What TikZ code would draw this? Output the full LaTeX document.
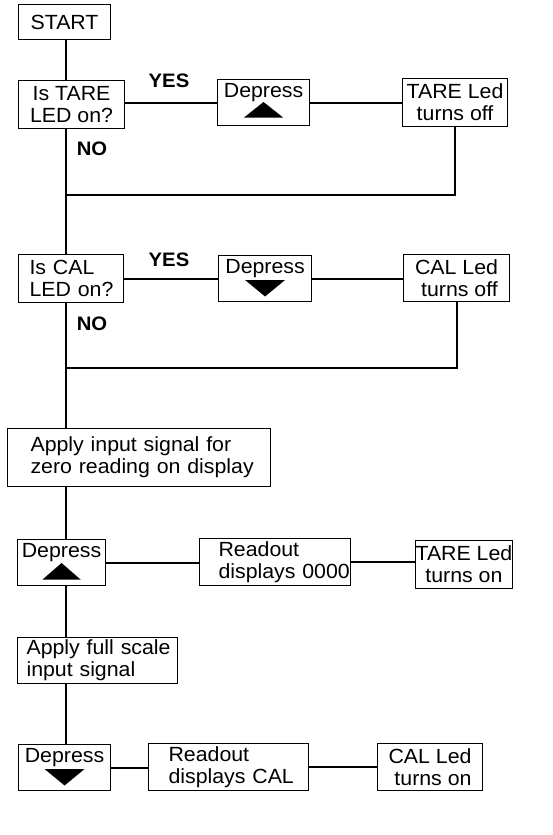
\documentclass[tikz,border=0pt]{standalone}
\usepackage{fontspec}
\setmainfont{Liberation Sans}[FakeStretch=1.04]
\usetikzlibrary{calc}
\newcommand\myln[2]{\hspace*{#1}\mbox{#2}}
\tikzset{
  box/.style={draw, line width=1.1pt, inner sep=0pt, anchor=north west,
    font=\fontsize{20.5}{22}\selectfont, align=center},
  lbox/.style={box, align=left, inner xsep=2pt},
  depbox/.style={box, text height=18pt},
  conn/.style={line width=2pt},
  yn/.style={font=\bfseries\fontsize{19.5}{22}\selectfont, inner sep=0pt},
  tri/.style={fill=black}
}
\begin{document}
\begin{tikzpicture}[x=1pt,y=-1pt]
\useasboundingbox (0,0) rectangle (553,835);
\coordinate (sp) at (66,0);
% boxes
\node[box, minimum width=92, minimum height=35] (start) at (18,4) {START};
\node[box, minimum width=106, minimum height=48] (istare) at (18,80) {Is TARE\\LED on?};
\node[depbox, minimum width=92, minimum height=46, text depth=28pt] (dep1) at (217,79) {Depress};
\node[box, minimum width=105, minimum height=48] (tareoff) at (402,78) {TARE Led\\turns off};
\node[lbox, minimum height=48, text width=101] (iscal) at (18,254) {\myln{9pt}{Is CAL}\\\myln{9pt}{LED on?}};
\node[depbox, minimum width=93, minimum height=46, text depth=28pt] (dep2) at (218,255) {Depress};
\node[box, minimum width=106, minimum height=47] (caloff) at (403,254) {CAL Led\\\ turns off};
\node[lbox, minimum height=58, text width=259] (apply) at (7,428) {\myln{21pt}{Apply input signal for}\\\myln{21pt}{zero reading on display}};
\node[depbox, minimum width=88, minimum height=46, text depth=28pt] (dep3) at (17,539) {Depress};
\node[lbox, minimum height=47, text width=147] (read0) at (199,538) {\myln{17pt}{Readout}\\\myln{17pt}{displays 0000}};
\node[box, minimum width=95, minimum height=48] (tareon) at (415,540) {TARE Led\\turns on};
\node[lbox, minimum height=46, text width=156] (applyfs) at (17,637) {\myln{7pt}{Apply full scale}\\\myln{7pt}{input signal}};
\node[depbox, minimum width=92, minimum height=46, text depth=28pt] (dep4) at (18,744) {Depress};
\node[lbox, minimum height=47, text width=156] (readcal) at (148,743) {\myln{18pt}{Readout}\\\myln{18pt}{displays CAL}};
\node[box, minimum width=105, minimum height=47] (calon) at (377,743) {CAL Led\\\ turns on};
% triangles
\fill[tri] ($(dep1.north)+(0,23)$) -- ++(19.5,15.5) -- ++(-39,0) -- cycle;
\fill[tri] ($(dep3.north)+(0,24)$) -- ++(19,16.5) -- ++(-38,0) -- cycle;
\fill[tri] ($(dep2.north)+(0,25)$) -- ++(20,0) -- ++(-20,16.5) -- ++(-20,-16.5) -- cycle;
\fill[tri] ($(dep4.north)+(0,25)$) -- ++(20,0) -- ++(-20,16.5) -- ++(-20,-16.5) -- cycle;
% labels
\node[yn] (yes1) at (169,81) {YES};
\node[yn] (no1) at (92,149) {NO};
\node[yn] (yes2) at (169,260) {YES};
\node[yn] (no2) at (92,324) {NO};
% junctions
\coordinate (j1) at (66,195);
\coordinate (j2) at (66,368);
% connectors
\draw[conn] (start.south -| sp) -- (istare.north -| sp);
\draw[conn] (istare.east |- dep1.west) -- (dep1.west);
\draw[conn] (dep1.east) -- (tareoff.west);
\draw[conn] (tareoff.south) |- (j1);
\draw[conn] (istare.south -| sp) -- (iscal.north -| sp);
\draw[conn] (iscal.east |- dep2.west) -- (dep2.west);
\draw[conn] (dep2.east) -- (dep2.east -| caloff.west);
\draw[conn] (caloff.south) |- (j2);
\draw[conn] (iscal.south -| sp) -- (apply.north -| sp);
\draw[conn] (apply.south -| sp) -- (dep3.north -| sp);
\draw[conn] (dep3.east) -- (dep3.east -| read0.west);
\draw[conn] (read0.east) -- (read0.east -| tareon.west);
\draw[conn] (dep3.south -| sp) -- (applyfs.north -| sp);
\draw[conn] (applyfs.south -| sp) -- (dep4.north -| sp);
\draw[conn] (dep4.east) -- (dep4.east -| readcal.west);
\draw[conn] (readcal.east) -- (readcal.east -| calon.west);
\end{tikzpicture}
\end{document}
